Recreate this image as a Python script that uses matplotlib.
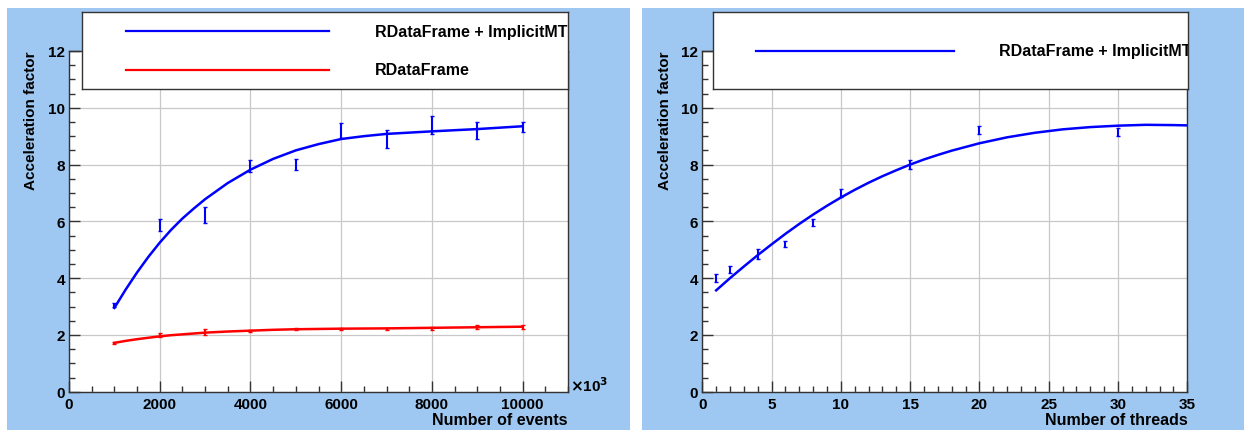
import matplotlib
matplotlib.use("Agg")
import matplotlib.pyplot as plt
from matplotlib.patches import Rectangle
from matplotlib.ticker import MultipleLocator

plt.rcParams['font.family'] = ['Liberation Sans', 'DejaVu Sans']
plt.rcParams['font.weight'] = 'bold'
plt.rcParams['font.size'] = 11

# left panel: speed-up vs number of events (x in units of 10^3)
events = [1000, 2000, 3000, 4000, 5000, 6000, 7000, 8000, 9000, 10000]
mt_events = [3.05, 5.87, 6.22, 7.95, 8.0, 9.2, 8.9, 9.4, 9.2, 9.32]
mt_events_err = [0.08, 0.2, 0.28, 0.2, 0.2, 0.25, 0.3, 0.32, 0.3, 0.18]
rdf_events = [1.72, 1.98, 2.1, 2.15, 2.2, 2.22, 2.2, 2.23, 2.28, 2.28]
rdf_events_err = [0.04, 0.07, 0.1, 0.04, 0.04, 0.04, 0.04, 0.04, 0.06, 0.06]

fit_events_x = [1000, 1250, 1500, 1750, 2000, 2250, 2500, 2750, 3000, 3500,
                4000, 4500, 5000, 5500, 6000, 6500, 7000, 8000, 9000, 10000]
mt_events_fit = [2.95, 3.6, 4.2, 4.75, 5.25, 5.7, 6.1, 6.45, 6.78, 7.35,
                 7.82, 8.2, 8.5, 8.72, 8.9, 9.0, 9.08, 9.17, 9.25, 9.35]
rdf_events_fit = [1.72, 1.79, 1.85, 1.9, 1.95, 1.99, 2.02, 2.05, 2.08, 2.12,
                  2.15, 2.18, 2.2, 2.21, 2.22, 2.225, 2.23, 2.25, 2.27, 2.29]

# right panel: speed-up vs number of threads
threads = [1, 2, 4, 6, 8, 10, 15, 20, 30]
mt_threads = [4.0, 4.3, 4.85, 5.2, 5.95, 7.0, 8.0, 9.22, 9.15]
mt_threads_err = [0.14, 0.12, 0.18, 0.12, 0.12, 0.13, 0.17, 0.15, 0.13]
fit_threads_x = [1, 2, 3, 4, 5, 6, 7, 8, 9, 10, 11, 12, 13, 14, 15, 16, 17, 18,
                 20, 22, 24, 26, 28, 30, 32, 34, 35]
mt_threads_fit = [3.57, 4.0, 4.41, 4.81, 5.19, 5.56, 5.91, 6.24, 6.55, 6.84,
                  7.11, 7.36, 7.59, 7.8, 8.0, 8.18, 8.34, 8.49, 8.75, 8.96,
                  9.12, 9.24, 9.32, 9.37, 9.4, 9.39, 9.38]

label_mt = 'RDataFrame + ImplicitMT'
label_rdf = 'RDataFrame'

W, H = 1244, 431
fig = plt.figure(figsize=(W / 100, H / 100), dpi=100)
bg = '#9ec8f2'
fig.patches.append(Rectangle((7 / W, 0), 623 / W, 422 / H, transform=fig.transFigure,
                             facecolor=bg, edgecolor='none', zorder=-10))
fig.patches.append(Rectangle((642 / W, 0), 602 / W, 422 / H, transform=fig.transFigure,
                             facecolor=bg, edgecolor='none', zorder=-10))

def fig_box(x0, x1, y0, y1):
    return [x0 / W, (H - y1) / H, (x1 - x0) / W, (y1 - y0) / H]

ax1 = fig.add_axes(fig_box(69, 568, 52, 392.7))
ax2 = fig.add_axes(fig_box(702.3, 1187.3, 52, 392.7))

def style(ax, xmax, xmajor, xminor):
    ax.set_xlim(0, xmax)
    ax.set_ylim(0, 12)
    ax.xaxis.set_major_locator(MultipleLocator(xmajor))
    ax.xaxis.set_minor_locator(MultipleLocator(xminor))
    ax.yaxis.set_major_locator(MultipleLocator(2))
    ax.yaxis.set_minor_locator(MultipleLocator(0.5))
    ax.tick_params(which='both', direction='in', top=False, right=False,
                   color='#333333', width=1)
    ax.tick_params(which='major', length=8, labelsize=11)
    ax.tick_params(axis='y', which='major', pad=3)
    ax.tick_params(axis='x', which='major', pad=4)
    ax.tick_params(which='minor', length=4)
    ax.grid(True, which='major', color='#c8c8c8', lw=0.9)
    ax.set_axisbelow(True)
    for s in ax.spines.values():
        s.set_color('#333333')
        s.set_linewidth(1)
    for lab in ax.get_xticklabels() + ax.get_yticklabels():
        lab.set_fontweight('bold')
    ax.text(-0.076, 1.0, 'Acceleration factor', transform=ax.transAxes,
            rotation=90, ha='center', va='top', fontsize=11, fontweight='bold')

style(ax1, 11000, 2000, 500)
style(ax2, 35, 5, 1)

# left panel
ax1.plot(fit_events_x, mt_events_fit, color='#0000ff', lw=1.8)
ax1.plot(fit_events_x, rdf_events_fit, color='#ff0000', lw=1.8)
ax1.errorbar(events, mt_events, yerr=mt_events_err, fmt='none', ecolor='#0000ff',
             elinewidth=1.5, capsize=1.5)
ax1.errorbar(events, rdf_events, yerr=rdf_events_err, fmt='none', ecolor='#ff0000',
             elinewidth=1.5, capsize=1.5)
ax1.text(1.0, -0.083, 'Number of events', transform=ax1.transAxes,
         ha='right', va='center', fontsize=11.5, fontweight='bold')
ax1.text(1.005, 0.02, r'$\times$10$^{3}$', transform=ax1.transAxes,
         ha='left', va='center', fontsize=11, fontweight='bold')

# right panel
ax2.plot(fit_threads_x, mt_threads_fit, color='#0000ff', lw=1.8)
ax2.errorbar(threads, mt_threads, yerr=mt_threads_err, fmt='none', ecolor='#0000ff',
             elinewidth=1.5, capsize=1.5)
ax2.text(1.0, -0.083, 'Number of threads', transform=ax2.transAxes,
         ha='right', va='center', fontsize=11.5, fontweight='bold')

# legend boxes (drawn like ROOT TLegend, above the frame)
def legend_box(x0, x1, entries):
    lg = fig.add_axes(fig_box(x0, x1, 13, 90))
    lg.set_xlim(0, 1)
    lg.set_ylim(0, 1)
    lg.set_xticks([])
    lg.set_yticks([])
    lg.set_facecolor('white')
    for s in lg.spines.values():
        s.set_color('#333333')
        s.set_linewidth(1)
    for ypos, color, text in entries:
        lg.plot([0.09, 0.508], [ypos, ypos], color=color, lw=1.6)
        t = lg.text(0.603, ypos, text, ha='left', va='center',
                    fontsize=11.5, fontweight='bold')
        t.set_clip_on(True)
    return lg

legend_box(82, 568, [(0.753, '#0000ff', label_mt), (0.247, '#ff0000', label_rdf)])
legend_box(713, 1188, [(0.494, '#0000ff', label_mt)])

fig.savefig('out.png', dpi=100)
